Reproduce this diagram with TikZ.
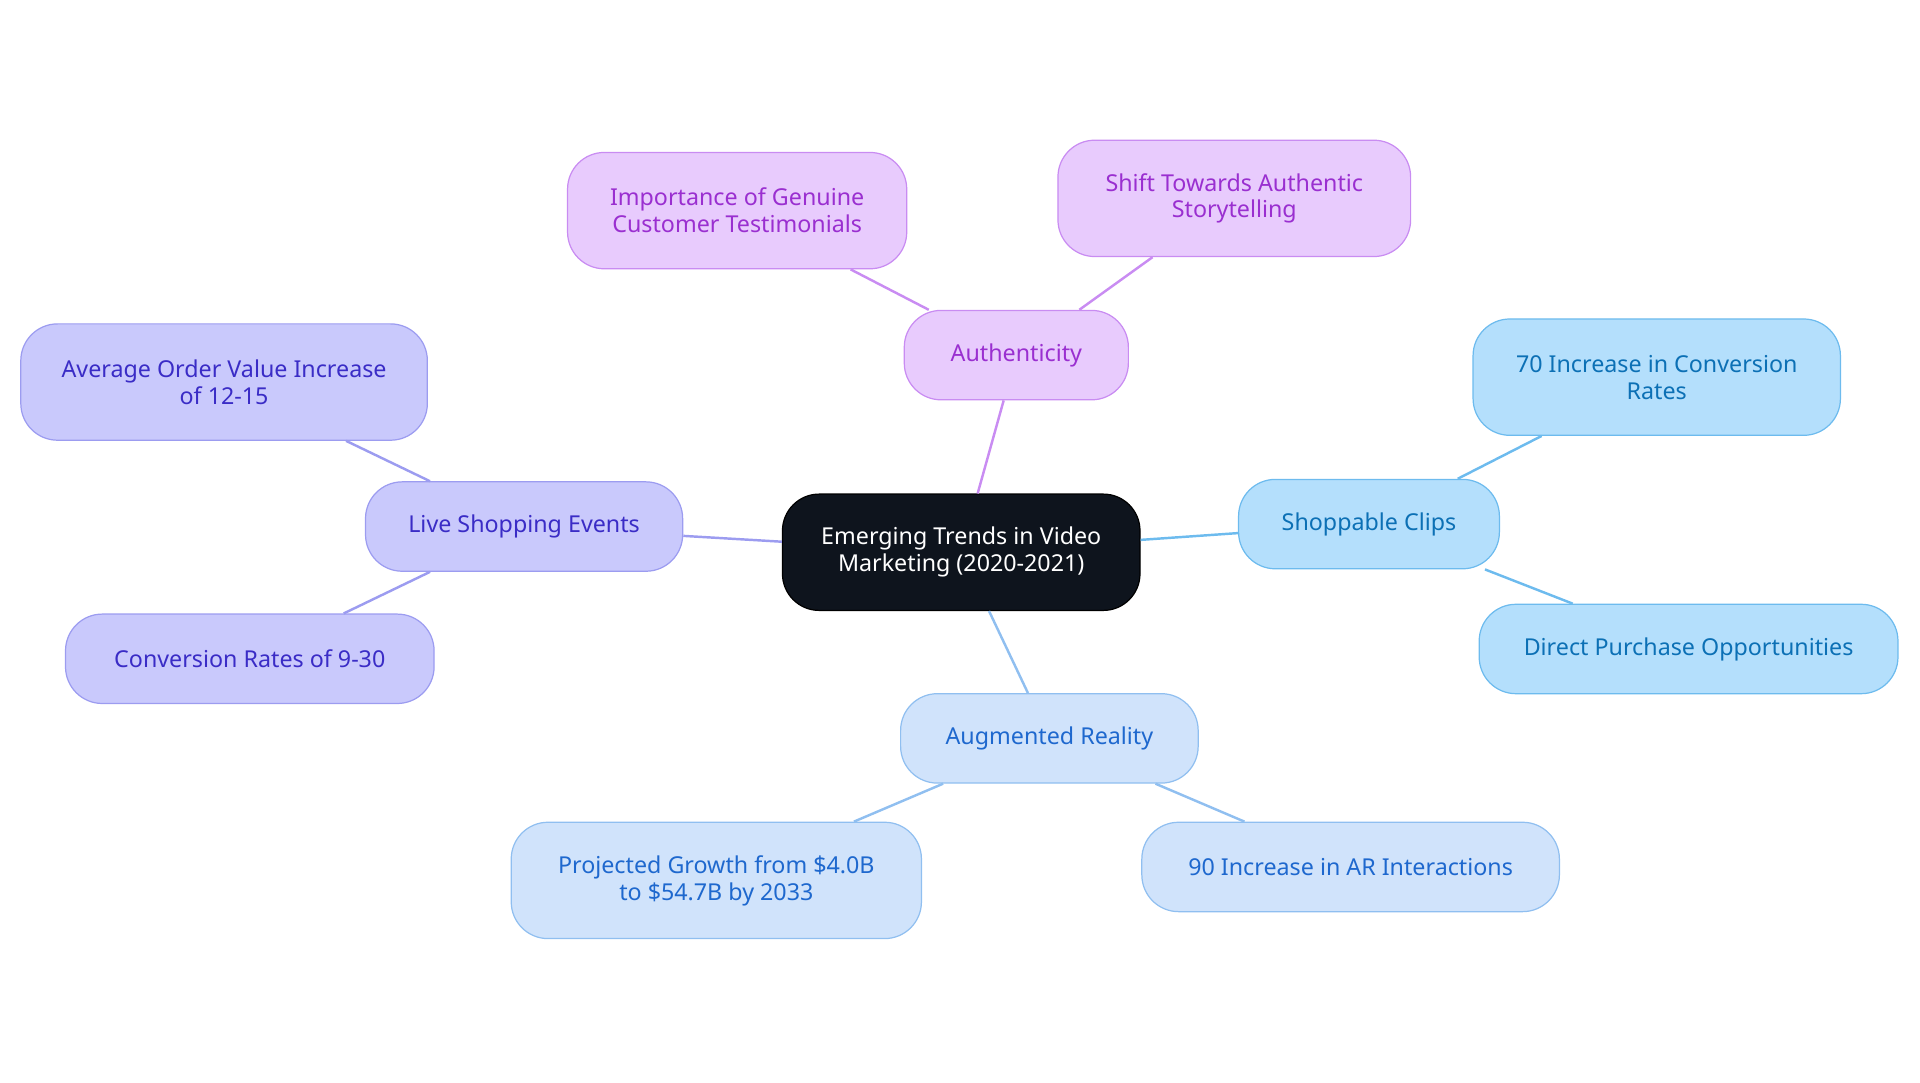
\documentclass[tikz,border=0pt]{standalone}
\usepackage{fontspec}
\setmainfont{Noto Sans}
\definecolor{rootfill}{HTML}{0E141D}
\definecolor{aufill}{HTML}{E8CBFD}\definecolor{auline}{HTML}{C98CF2}\definecolor{autext}{HTML}{9A2FD0}
\definecolor{lsfill}{HTML}{C9C9FC}\definecolor{lsline}{HTML}{9C9CF0}\definecolor{lstext}{HTML}{3A2CC6}
\definecolor{scfill}{HTML}{B4DFFC}\definecolor{scline}{HTML}{6DBBEE}\definecolor{sctext}{HTML}{0C70B5}
\definecolor{arfill}{HTML}{D0E3FB}\definecolor{arline}{HTML}{90BFF0}\definecolor{artext}{HTML}{1E68CE}
\tikzset{
  box/.style={draw, rounded corners=30pt, align=center, font=\fontsize{19}{22}\selectfont, line width=1pt, inner sep=0pt},
  root/.style={box, fill=rootfill, text=white, minimum width=292pt, minimum height=95pt},
  au/.style={box, fill=aufill, draw=auline, text=autext},
  ls/.style={box, fill=lsfill, draw=lsline, text=lstext},
  sc/.style={box, fill=scfill, draw=scline, text=sctext},
  ar/.style={box, fill=arfill, draw=arline, text=artext},
  link/.style={line width=2pt}
}
\begin{document}
\begin{tikzpicture}[x=1pt,y=-1pt]
  \useasboundingbox (0,0) rectangle (1568,884);
  % branches first, boxes on top
  \node[root] (trends) at (785,451) {Emerging Trends in Video\\Marketing (2020-2021)};

  \node[au, minimum width=183pt, minimum height=73pt] (auth) at (830,290) {Authenticity};
  \node[au, minimum width=277pt, minimum height=95pt] (genuine) at (602,172) {Importance of Genuine\\Customer Testimonials};
  \node[au, minimum width=288pt, minimum height=95pt] (story) at (1008,162) {Shift Towards Authentic\\Storytelling};

  \node[ls, minimum width=259pt, minimum height=73pt] (live) at (428,430) {Live Shopping Events};
  \node[ls, minimum width=332pt, minimum height=95pt] (order) at (183,312) {Average Order Value Increase\\of 12-15};
  \node[ls, minimum width=301pt, minimum height=73pt] (convlive) at (204,538) {Conversion Rates of 9-30};

  \node[sc, minimum width=213pt, minimum height=73pt] (clips) at (1118,428) {Shoppable Clips};
  \node[sc, minimum width=300pt, minimum height=95pt] (convclips) at (1353,308) {70 Increase in Conversion\\Rates};
  \node[sc, minimum width=342pt, minimum height=73pt] (direct) at (1379,530) {Direct Purchase Opportunities};

  \node[ar, minimum width=243pt, minimum height=73pt] (augm) at (857,603) {Augmented Reality};
  \node[ar, minimum width=335pt, minimum height=95pt] (growth) at (585,719) {Projected Growth from \$4.0B\\to \$54.7B by 2033};
  \node[ar, minimum width=341pt, minimum height=73pt] (inter) at (1103,708) {90 Increase in AR Interactions};

  \begin{scope}[on background layer/.style={}]
  \draw[link, auline] (trends) -- (auth);
  \draw[link, auline] (auth) -- (genuine);
  \draw[link, auline] (auth) -- (story);
  \draw[link, lsline] (trends) -- (live);
  \draw[link, lsline] (live) -- (order);
  \draw[link, lsline] (live) -- (convlive);
  \draw[link, scline] (trends) -- (clips);
  \draw[link, scline] (clips) -- (convclips);
  \draw[link, scline] (clips) -- (direct);
  \draw[link, arline] (trends) -- (augm);
  \draw[link, arline] (augm) -- (growth);
  \draw[link, arline] (augm) -- (inter);
  \end{scope}
\end{tikzpicture}
\end{document}
